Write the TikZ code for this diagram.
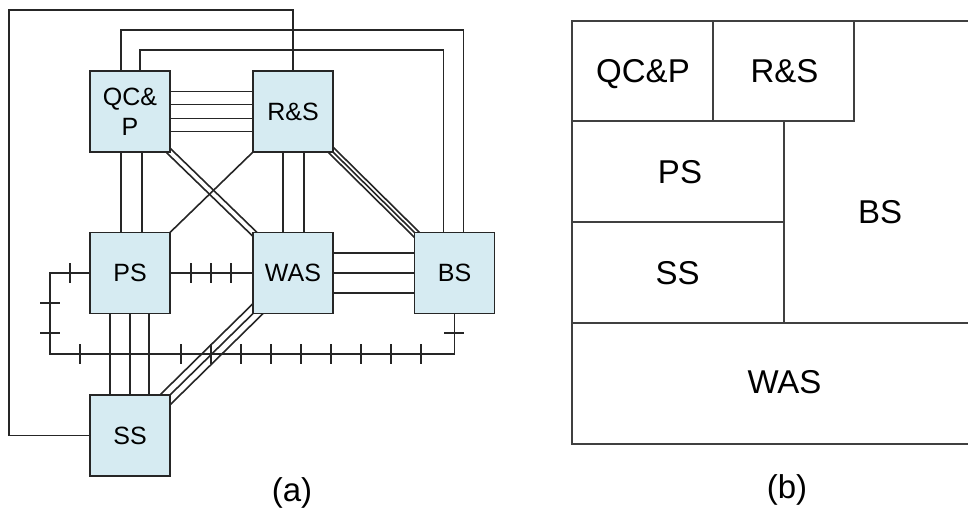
\documentclass[tikz,border=0pt]{standalone}
\usepackage{fontspec}
\setmainfont{Liberation Sans}
\usetikzlibrary{backgrounds}
\definecolor{boxblue}{RGB}{214,235,242}
\tikzset{
  module/.style={draw=black!85, line width=1.8pt, fill=boxblue, minimum width=80pt, minimum height=81pt, inner sep=0pt, align=center, font=\fontsize{25}{30}\selectfont},
  wire/.style={line width=1.6pt, draw=black!85},
  link/.style={shorten <=-12pt, shorten >=-12pt},
  region/.style={line width=1.6pt, draw=black!75},
  cell/.style={anchor=base, inner sep=0pt, font=\fontsize{33}{40}\selectfont}
}
\begin{document}
\begin{tikzpicture}[x=1pt,y=-1pt]
  \useasboundingbox (0,0) rectangle (968,513);
  \node[module] (qcp) at (130,111.5) {QC\&\\P};
  \node[module] (rs) at (293,111.5) {R\&S};
  \node[module] (ps) at (130,273) {PS};
  \node[module] (was) at (293,273) {WAS};
  \node[module] (bs) at (454.5,273) {BS};
  \node[module] (ss) at (130,435.5) {SS};
  \begin{scope}[on background layer={wire}]
    \draw (ss.west) -| (9,10) -| (rs.north);
    \draw ([xshift=-9pt]qcp.north) -- ++(0,-40) -| ([xshift=9pt]bs.north);
    \draw ([xshift=10pt]qcp.north) -- ++(0,-20) -| ([xshift=-11pt]bs.north);
    \foreach \d in {-20,-7,7,20}
      \draw ([shift={(0,\d)}]qcp.east) -- ([shift={(0,\d)}]rs.west);
    \foreach \d in {-9,12}
      \draw ([xshift=\d pt]qcp.south) -- ([xshift=\d pt]ps.north);
    \foreach \d in {-10,11}
      \draw ([xshift=\d pt]rs.south) -- ([xshift=\d pt]was.north);
    \draw[link] (rs.south west) -- (ps.north east);
    \foreach \s in {-2,2}
      \draw[link] ([shift={(\s,-\s)}]qcp.south east) -- ([shift={(\s,-\s)}]was.north west);
    \foreach \s in {-2.5,0,2.5}
      \draw[link] ([shift={(\s,-\s)}]rs.south east) -- ([shift={(\s,-\s)}]bs.north west);
    \foreach \s in {-5,0,5}
      \draw[link] ([shift={(\s,\s)}]was.south west) -- ([shift={(\s,\s)}]ss.north east);
    \draw (ps.east) -- (was.west);
    \foreach \x in {191,211,231}
      \draw (\x,263) -- (\x,283);
    \foreach \d in {-20,0,20}
      \draw ([shift={(0,\d)}]was.east) -- ([shift={(0,\d)}]bs.west);
    \foreach \d in {-20,0,19}
      \draw ([xshift=\d pt]ps.south) -- ([xshift=\d pt]ss.north);
    \draw (ps.west) -| (50,354) -| (bs.south);
    \draw (70,263) -- (70,283);
    \foreach \y in {303,333}
      \draw (40,\y) -- (60,\y);
    \draw (444,333) -- (464,333);
    \foreach \x in {80,181,211,...,422}
      \draw (\x,344) -- (\x,364);
  \end{scope}
  \node[cell] (capa) at (292,501) {(a)};

  \draw[region] (968,21) -- (572,21) -- (572,444) -- (968,444);
  \draw[region] (713,21) -- (713,121);
  \draw[region] (572,121) -- (854,121) -- (854,21);
  \draw[region] (784,121) -- (784,323);
  \draw[region] (572,222) -- (784,222);
  \draw[region] (572,323) -- (968,323);
  \node[cell] (cqcp) at (643,83) {QC\&P};
  \node[cell] (crs) at (784.5,83) {R\&S};
  \node[cell] (cps) at (680,183) {PS};
  \node[cell] (cbs) at (880,223) {BS};
  \node[cell] (css) at (677.5,284) {SS};
  \node[cell] (cwas) at (784.5,393) {WAS};
  \node[cell] (capb) at (787,498) {(b)};
\end{tikzpicture}
\end{document}
